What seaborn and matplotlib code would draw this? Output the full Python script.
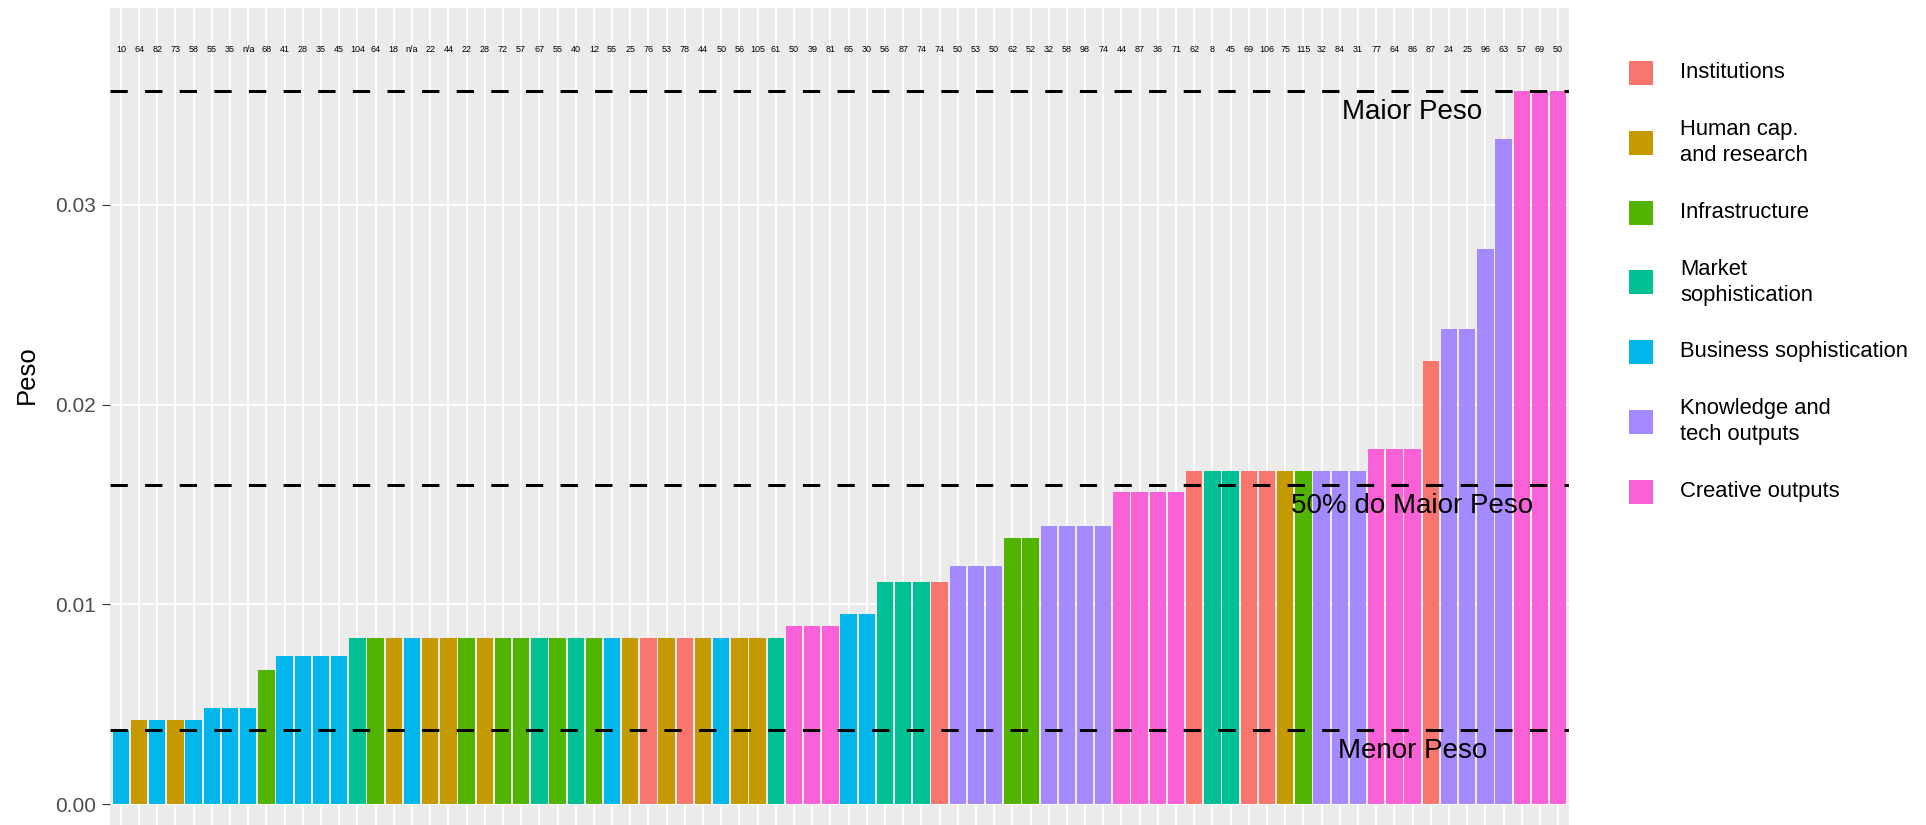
import pandas as pd
import matplotlib
matplotlib.use("Agg")
import matplotlib.pyplot as plt
from matplotlib.patches import Rectangle
import seaborn as sns

# pilares (ordem da legenda) e cores padrao do ggplot
pilares = ['Institutions', 'Human cap.\nand research', 'Infrastructure',
           'Market\nsophistication', 'Business sophistication',
           'Knowledge and\ntech outputs', 'Creative outputs']
cores = ['#F8766D', '#C49A00', '#53B400', '#00C094', '#00B6EB', '#A58AFF', '#FB61D7']
siglas = ['INS', 'HUM', 'INF', 'MKT', 'BUS', 'KNW', 'CRE']

# pilar de cada barra (ordenadas por peso)
pilar_barras = [
    'BUS', 'HUM', 'BUS', 'HUM', 'BUS', 'BUS', 'BUS', 'BUS', 'INF', 'BUS',
    'BUS', 'BUS', 'BUS', 'MKT', 'INF', 'HUM', 'BUS', 'HUM', 'HUM', 'INF',
    'HUM', 'INF', 'INF', 'MKT', 'INF', 'MKT', 'INF', 'BUS', 'HUM', 'INS',
    'HUM', 'INS', 'HUM', 'BUS', 'HUM', 'HUM', 'MKT', 'CRE', 'CRE', 'CRE',
    'BUS', 'BUS', 'MKT', 'MKT', 'MKT', 'INS', 'KNW', 'KNW', 'KNW', 'INF',
    'INF', 'KNW', 'KNW', 'KNW', 'KNW', 'CRE', 'CRE', 'CRE', 'CRE', 'INS',
    'MKT', 'MKT', 'INS', 'INS', 'HUM', 'INF', 'KNW', 'KNW', 'KNW', 'CRE',
    'CRE', 'CRE', 'INS', 'KNW', 'KNW', 'KNW', 'KNW', 'CRE', 'CRE', 'CRE']

peso = [
    0.0037, 0.0042, 0.0042, 0.0042, 0.0042, 0.0048, 0.0048, 0.0048, 0.0067, 0.0074,
    0.0074, 0.0074, 0.0074, 0.0083, 0.0083, 0.0083, 0.0083, 0.0083, 0.0083, 0.0083,
    0.0083, 0.0083, 0.0083, 0.0083, 0.0083, 0.0083, 0.0083, 0.0083, 0.0083, 0.0083,
    0.0083, 0.0083, 0.0083, 0.0083, 0.0083, 0.0083, 0.0083, 0.0089, 0.0089, 0.0089,
    0.0095, 0.0095, 0.0111, 0.0111, 0.0111, 0.0111, 0.0119, 0.0119, 0.0119, 0.0133,
    0.0133, 0.0139, 0.0139, 0.0139, 0.0139, 0.0156, 0.0156, 0.0156, 0.0156, 0.0167,
    0.0167, 0.0167, 0.0167, 0.0167, 0.0167, 0.0167, 0.0167, 0.0167, 0.0167, 0.0178,
    0.0178, 0.0178, 0.0222, 0.0238, 0.0238, 0.0278, 0.0333, 0.0357, 0.0357, 0.0357]

# rotulos do topo (ranking de cada indicador)
rotulos = [
    '10', '64', '82', '73', '58', '55', '35', 'n/a', '68', '41',
    '28', '35', '45', '104', '64', '18', 'n/a', '22', '44', '22',
    '28', '72', '57', '67', '55', '40', '12', '55', '25', '76',
    '53', '78', '44', '50', '56', '105', '61', '50', '39', '81',
    '65', '30', '56', '87', '74', '74', '50', '53', '50', '62',
    '52', '32', '58', '98', '74', '44', '87', '36', '71', '62',
    '8', '45', '69', '106', '75', '115', '32', '84', '31', '77',
    '64', '86', '87', '24', '25', '96', '63', '57', '69', '50']

maior_peso = 0.0357
metade_peso = 0.0160
menor_peso = 0.0037

nome = dict(zip(siglas, pilares))
df = pd.DataFrame({'pos': range(len(peso)), 'peso': peso,
                   'pilar': [nome[s] for s in pilar_barras]})

sns.set_style("darkgrid", {"axes.facecolor": "#EBEBEB", "grid.color": "white"})
plt.rcParams['font.family'] = ['Liberation Sans', 'DejaVu Sans']
plt.rcParams['text.color'] = 'black'

fig = plt.figure(figsize=(19.26, 8.25), dpi=100)
ax = fig.add_axes([110 / 1926, 0, 1459 / 1926, 817 / 825])

sns.barplot(data=df, x='pos', y='peso', hue='pilar', hue_order=pilares,
            palette=dict(zip(pilares, cores)), dodge=False, width=0.9,
            saturation=1, linewidth=0, legend=False, ax=ax)

ax.set_xlim(-0.6, len(peso) - 0.4)
ax.set_ylim(-0.00105, 0.03986)
ax.grid(True, color='white', linewidth=1.3)
ax.set_axisbelow(True)
for s in ax.spines.values():
    s.set_visible(False)

ax.set_xticks(range(len(peso)))
ax.set_xticklabels([])
ax.tick_params(axis='x', length=0)
ax.set_xlabel('')
ax.set_yticks([0, 0.01, 0.02, 0.03])
ax.set_yticklabels(['0.00', '0.01', '0.02', '0.03'])
ax.tick_params(axis='y', length=5.8, width=0.8, color='#333333', labelsize=15,
               labelcolor='#4D4D4D', pad=4.3, left=True)
ax.set_ylabel('Peso', fontsize=18.5, va='center', color='black')
ax.yaxis.set_label_coords(-0.0569, 0.551)

# linhas de referencia
for v in [maior_peso, metade_peso, menor_peso]:
    ax.axhline(v, color='black', linewidth=2.16, linestyle=(0, (5.77, 5.77)))

ax.text(71, 0.0343, 'Maior Peso', ha='center', va='baseline', fontsize=20, color='black')
ax.text(71, 0.01457, '50% do Maior Peso', ha='center', va='baseline', fontsize=20, color='black')
ax.text(71, 0.0023, 'Menor Peso', ha='center', va='baseline', fontsize=20, color='black')

for i, r in enumerate(rotulos):
    ax.text(i, 0.0378, r, ha='center', va='center', fontsize=6.5, color='black')

# legenda (desenhada a mao para manter espacamento do ggplot)
for i, (p, c) in enumerate(zip(pilares, cores)):
    yc = 73 + 69.75 * i
    fig.add_artist(Rectangle((1629 / 1926, (825 - yc - 12) / 825), 24 / 1926, 24 / 825,
                             transform=fig.transFigure, facecolor=c, edgecolor='none'))
    fig.text(1680 / 1926, (825 - yc) / 825, p, ha='left', va='center',
             fontsize=15.8, linespacing=1.3, color='black')

fig.savefig('out.png', dpi=100)
